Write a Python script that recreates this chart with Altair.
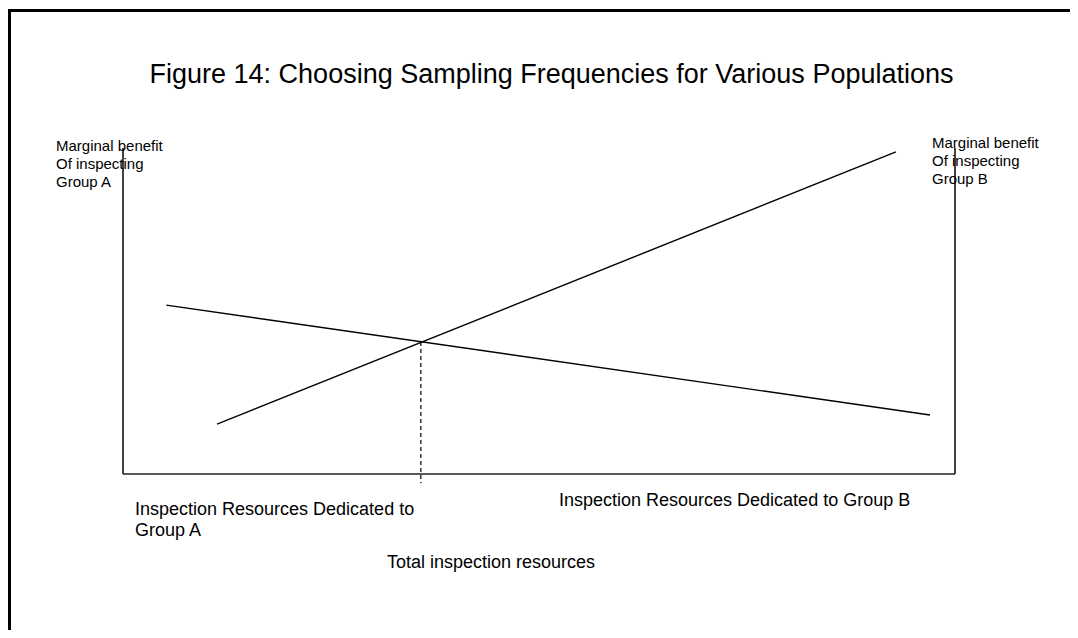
import altair as alt
import pandas as pd

# ---- data (resources to Group A on x, 0..100 = total; marginal benefit on y) ----
series = ["Group A", "Group A", "Group B", "Group B"]
res_x = [5.2, 97.0, 11.3, 92.9]
benefit_y = [51.8, 18.1, 15.3, 98.8]

equil_x = [35.8]
equil_y = [40.5]
tick_low = [-2.8]

axis_top = 100.0
total_res = 100.0

title_text = "Figure 14: Choosing Sampling Frequencies for Various Populations"
left_label = ["Marginal benefit", "Of inspecting", "Group A"]
right_label = ["Marginal benefit", "Of inspecting", "Group B"]
bottom_a = ["Inspection Resources Dedicated to", "Group A"]
bottom_b = ["Inspection Resources Dedicated to Group B"]
total_text = ["Total inspection resources"]

# ---- layout ----
W, H = 1062, 622
px_per_x = 8.32
px_per_y = 3.26
x0 = -(123 - 8) / px_per_x
x1 = x0 + W / px_per_x
y1 = (474 - 8) / px_per_y
y0 = y1 - H / px_per_y

xs = alt.Scale(domain=[x0, x1], nice=False, zero=False)
ys = alt.Scale(domain=[y0, y1], nice=False, zero=False)
FONT = "Liberation Sans"

lines_df = pd.DataFrame({"series": series, "x": res_x, "y": benefit_y})
lines = alt.Chart(lines_df).mark_line(color="black", strokeWidth=1.4).encode(
    x=alt.X("x:Q", scale=xs, axis=None),
    y=alt.Y("y:Q", scale=ys, axis=None),
    detail="series:N",
)

axes_df = pd.DataFrame({
    "x": [0.0, total_res, 0.0],
    "x2": [0.0, total_res, total_res],
    "y": [0.0, 0.0, 0.0],
    "y2": [axis_top, axis_top, 0.0],
})
axes = alt.Chart(axes_df).mark_rule(color="#222", strokeWidth=1.7).encode(
    x=alt.X("x:Q", scale=xs, axis=None),
    x2="x2:Q",
    y=alt.Y("y:Q", scale=ys, axis=None),
    y2="y2:Q",
)

eq_df = pd.DataFrame({"x": equil_x, "y": equil_y, "y2": tick_low})
dashed = alt.Chart(eq_df).mark_rule(color="black", strokeWidth=1.2, strokeDash=[4, 3]).encode(
    x=alt.X("x:Q", scale=xs, axis=None),
    y=alt.Y("y:Q", scale=ys, axis=None),
    y2="y2:Q",
)

border_top = alt.Chart(pd.DataFrame({"a": [0]})).mark_rule(color="black", strokeWidth=3).encode(
    x=alt.value(0), x2=alt.value(W), y=alt.value(2.6)
)
border_left = alt.Chart(pd.DataFrame({"a": [0]})).mark_rule(color="black", strokeWidth=3).encode(
    x=alt.value(1.5), y=alt.value(1), y2=alt.value(H)
)


def text_layer(lines_list, x_px, y_px_first, step, size, align="left"):
    df = pd.DataFrame({"t": lines_list, "i": list(range(len(lines_list)))})
    df["py"] = [y_px_first + step * i for i in range(len(lines_list))]
    return alt.Chart(df).mark_text(
        font=FONT, fontSize=size, align=align, baseline="middle", color="black"
    ).encode(
        x=alt.value(x_px),
        y=alt.Y("py:Q", scale=alt.Scale(domain=[0, H], range=[0, H], nice=False, zero=False), axis=None),
        text="t:N",
    )


title = text_layer([title_text], 551.5 - 8, 75 - 8, 0, 27, align="center")
lab_l = text_layer(left_label, 56 - 8, 146 - 8, 18, 15)
lab_r = text_layer(right_label, 932 - 8, 143 - 8, 18, 15)
bot_a = text_layer(bottom_a, 135 - 8, 510 - 8, 21, 18)
bot_b = text_layer(bottom_b, 559 - 8, 501 - 8, 0, 18)
tot = text_layer(total_text, 387 - 8, 563 - 8, 0, 18)

chart = alt.layer(
    border_top, border_left, axes, lines, dashed,
    title, lab_l, lab_r, bot_a, bot_b, tot,
).resolve_scale(y="independent").properties(
    width=W, height=H, padding=0, autosize=alt.AutoSizeParams(type="none")
).configure_view(stroke=None)

chart.save("out.html", embed_options={"renderer": "svg", "actions": False})
